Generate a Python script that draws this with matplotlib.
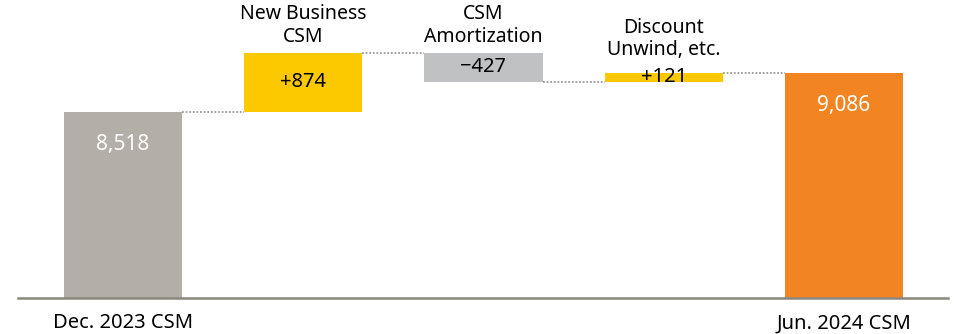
import matplotlib.pyplot as plt
import matplotlib.transforms as mtransforms

plt.rcParams['font.family'] = ['Noto Sans', 'DejaVu Sans']

# CSM roll-forward, Dec. 2023 -> Jun. 2024
steps = ['Dec. 2023 CSM', 'New Business\nCSM', 'CSM\nAmortization', 'Discount\nUnwind, etc.', 'Jun. 2024 CSM']
opening = 8518
changes = [874, -427, 121]
closing = 9086
bar_colors = ['#b3aea7', '#fcc800', '#c0c1c3', '#fcc800', '#f28522']

fig = plt.figure(figsize=(9.55, 3.34), dpi=100)
ax = fig.add_axes([18 / 955, 36 / 334, 930 / 955, 298 / 334])
ymin, ymax = 5783, 10165
ax.set_xlim(-0.5825, 4.577)
ax.set_ylim(ymin, ymax)
w = 0.655
px_per_unit = 298 / (ymax - ymin)

# running totals for the floating bars
bottoms, heights = [ymin], [opening - ymin]
level = opening
for c in changes:
    bottoms.append(level if c > 0 else level + c)
    heights.append(abs(c))
    level += c
bottoms.append(ymin)
heights.append(closing - ymin)

ax.bar(range(5), heights, bottom=bottoms, width=w, color=bar_colors, linewidth=0, zorder=2)

# dotted connectors between neighbouring bars
levels = [opening]
for c in changes:
    levels.append(levels[-1] + c)
for i in range(4):
    y = levels[i]
    ax.plot([i + w / 2, i + 1 - w / 2], [y, y], color='#9a9a9a', lw=1.3,
            ls=(0, (1, 1)), zorder=1)

# totals: white labels near the top of the bar
down = mtransforms.offset_copy(ax.transData, fig=fig, x=0, y=-32, units='dots')
ax.text(0, opening, '8,518', transform=down, ha='center', va='center',
        color='white', fontsize=15)
ax.text(4, closing, '9,086', transform=down, ha='center', va='center',
        color='white', fontsize=15)

# changes: value in the bar, caption above it
for i, c in enumerate(changes, start=1):
    b, h = bottoms[i], heights[i]
    txt = f'+{c:,}' if c > 0 else f'\u2212{abs(c):,}'
    ax.text(i, b + h / 2, txt, ha='center', va='center', color='black',
            fontsize=14.5, zorder=3)
    # keep the caption clear of the value when the bar is thin
    extra = max(0, (22 - h * px_per_unit) / 2)
    up = mtransforms.offset_copy(ax.transData, fig=fig, x=0, y=6 + extra, units='dots')
    ax.text(i, b + h, steps[i], transform=up, ha='center', va='bottom',
            color='black', fontsize=14, linespacing=1.15)

ax.set_xticks([0, 4])
ax.set_xticklabels([steps[0], steps[4]], fontsize=14.5)
ax.tick_params(axis='x', length=0, pad=11)
ax.set_yticks([])
for s in ['top', 'left', 'right']:
    ax.spines[s].set_visible(False)
ax.spines['bottom'].set_color('#8c877f')
ax.spines['bottom'].set_linewidth(1.8)

fig.savefig('out.png', dpi=100)
